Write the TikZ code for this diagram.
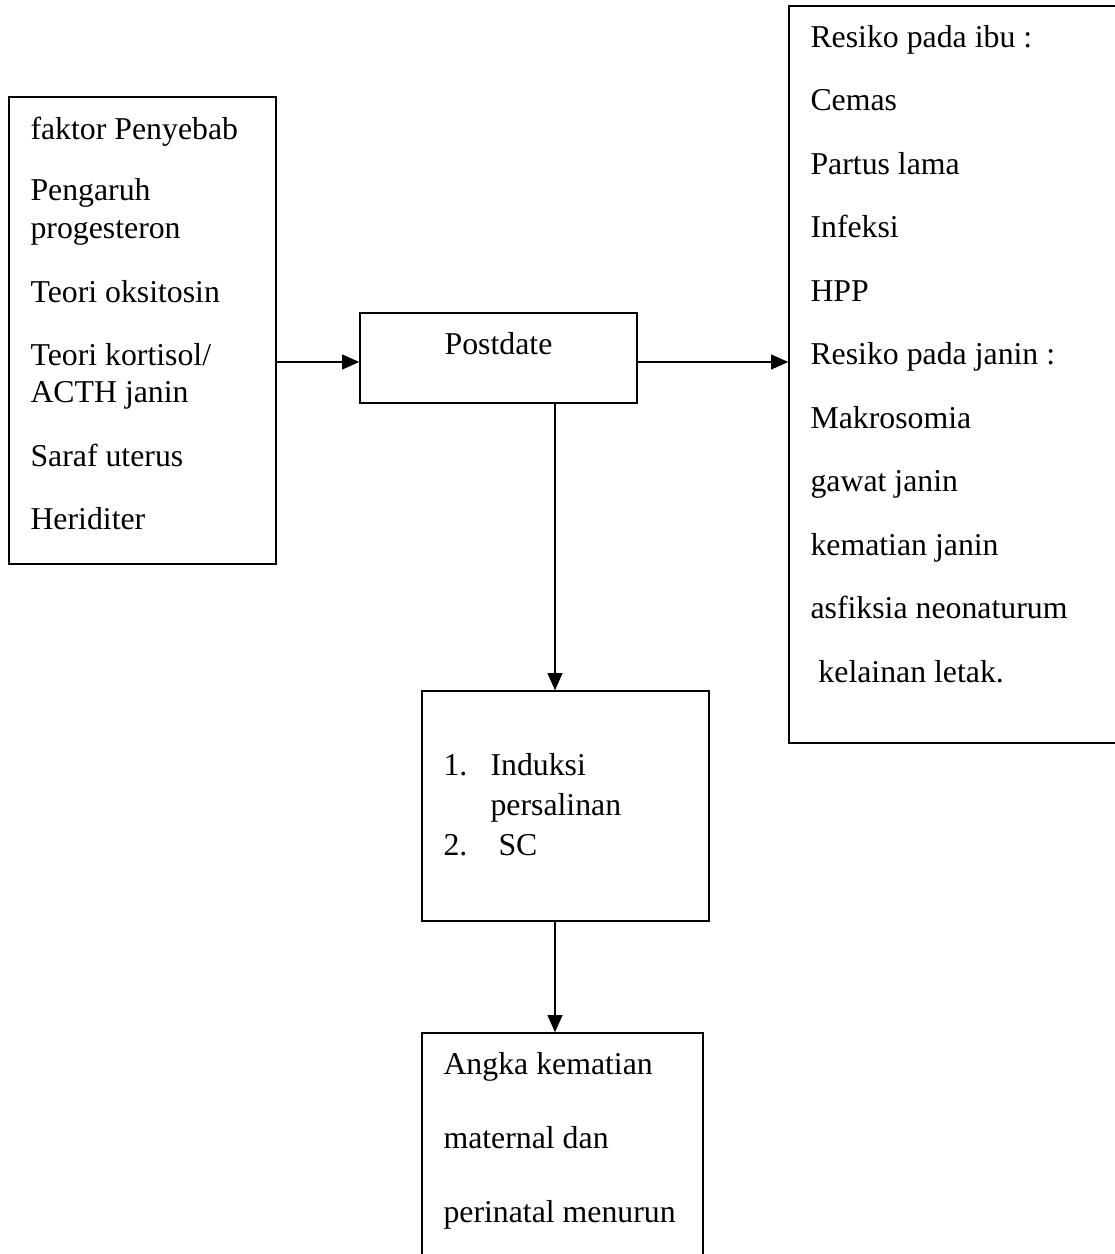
\documentclass[tikz,border=0pt]{standalone}
\usepackage{fontspec}
\setmainfont{Liberation Serif}
\usetikzlibrary{arrows.meta}
\newcommand\pxu{0.3774pt}
\tikzset{box/.style={draw, line width=0.5pt, inner sep=0pt},
         line/.style={anchor=base west, inner sep=0pt, font=\fontsize{12}{14}\selectfont},
         flow/.style={line width=0.9pt, -{Triangle[length=6.5pt,width=5.5pt]}}}

\begin{document}
\begin{tikzpicture}[x=\pxu, y=-\pxu]
\useasboundingbox (0,0) rectangle (1115,1254);

% The five boxes
\node[box, minimum width=267*\pxu, minimum height=467*\pxu] (cause)   at (142.5,330.5) {};
\node[box, minimum width=277*\pxu, minimum height=90*\pxu]  (post)    at (498.5,358)   {};
\node[box, minimum width=331*\pxu, minimum height=737*\pxu] (risk)    at (954.5,374.5) {};
\node[box, minimum width=287*\pxu, minimum height=230*\pxu] (action)  at (565.5,806)   {};
\node[box, minimum width=281*\pxu, minimum height=229*\pxu] (outcome) at (562.5,1147.5) {};

% Text of the left box
\foreach \y/\txt [count=\i] in {139/faktor Penyebab, 200/Pengaruh, 238/progesteron,
    302/Teori oksitosin, 365/{Teori kortisol/}, 402/ACTH janin, 466/Saraf uterus, 529/Heriditer}
  \node[line] (cause\i) at (30,\y) {\txt};

\node[line, anchor=base] (posttxt) at (498.5,354) {Postdate};

% Text of the right box
\foreach \txt [count=\i] in {Resiko pada ibu :, Cemas, Partus lama, Infeksi, HPP,
    Resiko pada janin :, Makrosomia, gawat janin, kematian janin, asfiksia neonaturum,
    \ kelainan letak.}
  \node[line] (risk\i) at (810,{47+63.5*(\i-1)}) {\txt};

% List in the middle box
\node[line] (act1) at (443,775) {1.};
\node[line] (act2) at (490,775) {Induksi};
\node[line] (act3) at (490,815) {persalinan};
\node[line] (act4) at (443,855) {2.};
\node[line] (act5) at (498,855) {SC};

\foreach \y/\txt [count=\i] in {1074/Angka kematian, 1148/maternal dan, 1222/perinatal menurun}
  \node[line] (out\i) at (443,\y) {\txt};

% Arrows
\coordinate (spine) at (555,362);
\draw[flow] (spine -| cause.east) -- (spine -| post.west);
\draw[flow] (spine -| post.east) -- (spine -| risk.west);
\draw[flow] (post.south -| spine) -- (action.north -| spine);
\draw[flow] (action.south -| spine) -- (outcome.north -| spine);

\end{tikzpicture}
\end{document}
